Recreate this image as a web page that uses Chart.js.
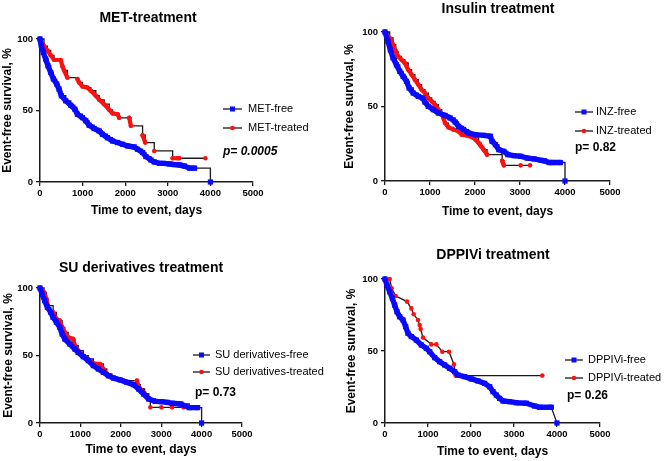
<!DOCTYPE html>
<html>
<head>
<meta charset="utf-8">
<script src="https://cdn.jsdelivr.net/npm/chart.js@4.4.1/dist/chart.umd.min.js"></script>
<style>
  html, body { margin: 0; padding: 0; background: #fff; }
  #wrap { position: relative; width: 669px; height: 461px; }
  .panel { position: absolute; }
</style>
</head>
<body>
<div id="wrap">
  <div class="panel" style="left:0;top:0;width:335px;height:230px"><canvas id="c1"></canvas></div>
  <div class="panel" style="left:335px;top:0;width:334px;height:230px"><canvas id="c2"></canvas></div>
  <div class="panel" style="left:0;top:230px;width:335px;height:231px"><canvas id="c3"></canvas></div>
  <div class="panel" style="left:335px;top:230px;width:334px;height:231px"><canvas id="c4"></canvas></div>
</div>
<script>
// axis ticks and titles
var xTicks = [0, 1000, 2000, 3000, 4000, 5000];
var yTicks = [0, 50, 100];
var xTitle = 'Time to event, days';
var yTitle = 'Event-free survival, %';

// MET-treatment
var metNames = ['MET-free', 'MET-treated'];
var metFreeDays = [0, 31, 78, 133, 188, 251, 314, 392, 447, 502, 604, 722, 816, 878, 996, 1075, 1153, 1271, 1388, 1467, 1584, 1702, 1820, 1937, 2055, 2212, 2290, 2408, 2486, 2604, 2682, 2808, 2900, 3042, 3150, 3276, 3388, 3510, 3627, 4000];
var metFreeSurv = [100, 95.3, 90.7, 86, 81.3, 76.6, 72, 68.5, 65, 60.3, 56.8, 53.7, 51, 47.4, 45, 42.8, 39.7, 37.4, 35.7, 33.4, 31, 28.7, 27.6, 26.4, 25.2, 24.5, 22.9, 20.6, 17.8, 15.4, 14, 13, 13, 12.6, 12.2, 11.9, 11.2, 9.7, 9.7, 0];
var metTreatedDays = [0, 94, 173, 251, 329, 486, 525, 565, 643, 878, 918, 996, 1114, 1192, 1310, 1388, 1506, 1624, 1702, 1820, 1859, 2094, 2133, 2408, 2471, 2682, 3114, 3231, 3271, 3882];
var metTreatedSurv = [100, 95, 92, 88.6, 85.5, 85.3, 81, 78, 73, 72, 69.6, 66.8, 66, 63.8, 60.3, 57.5, 54.4, 50.5, 48, 47.4, 44.9, 44.9, 39.3, 32.7, 27.6, 21.7, 16.6, 16.6, 16.6, 16.6];
var metP = 'p= 0.0005';

// Insulin treatment
var inzNames = ['INZ-free', 'INZ-treated'];
var inzFreeDays = [0, 67, 119, 179, 254, 328, 403, 477, 537, 627, 739, 836, 888, 962, 1074, 1186, 1335, 1447, 1559, 1634, 1745, 1858, 2007, 2193, 2342, 2380, 2454, 2529, 2641, 2730, 2864, 3014, 3163, 3312, 3470, 3545, 3648, 3731, 3896, 4000];
var inzFreeSurv = [100, 93.7, 88, 82.6, 78, 73.6, 70.2, 66.9, 62.4, 59, 56.8, 55.7, 53, 50.1, 47.9, 45.6, 44, 42.3, 39.6, 36.7, 34.5, 32.2, 31.1, 30.6, 30, 26.6, 24.4, 21, 19.9, 17.7, 17, 16.6, 15.4, 14.8, 13.9, 13.5, 12.4, 12.4, 12.4, 0];
var inzTreatedDays = [0, 104, 179, 239, 291, 366, 440, 515, 589, 664, 739, 813, 888, 962, 1037, 1112, 1186, 1261, 1298, 1335, 1410, 1522, 1634, 1708, 1820, 1970, 2081, 2134, 2193, 2268, 2604, 2641, 3014, 3223];
var inzTreatedSurv = [100, 96, 91.5, 87, 83.7, 81.4, 79.2, 74.7, 71.4, 68, 64.7, 61.3, 59, 55.7, 53.5, 51.2, 47.9, 45, 42.3, 38.9, 36, 34.5, 33.3, 31.1, 30.6, 28.9, 25.5, 23.3, 21, 17.7, 13.6, 10.5, 10.5, 10.5];
var inzP = 'p= 0.82';

// SU derivatives treatment
var suNames = ['SU derivatives-free', 'SU derivatives-treated'];
var suFreeDays = [0, 50, 116, 183, 266, 324, 407, 490, 548, 614, 739, 863, 946, 1071, 1195, 1320, 1444, 1569, 1693, 1818, 1984, 2150, 2316, 2440, 2565, 2689, 2855, 3012, 3150, 3270, 3485, 3693, 3900, 4000];
var suFreeSurv = [100, 95.6, 90.6, 85.7, 82, 78.3, 74.6, 70.9, 65.9, 62.2, 58.5, 54.8, 52.3, 49.1, 46.2, 42.5, 40, 37.5, 35, 33.3, 31.9, 30.1, 28.4, 25.2, 21.5, 17.8, 16, 15.8, 15.3, 14.6, 14.1, 11.4, 11.4, 0];
var suTreatedDays = [0, 100, 158, 199, 324, 407, 490, 548, 614, 697, 822, 863, 946, 1071, 1195, 1320, 1486, 1569, 1652, 1776, 1901, 2067, 2399, 2424, 2482, 2590, 2689, 2731, 3004, 3270, 3552];
var suTreatedSurv = [100, 96.8, 91.9, 86.9, 82, 77, 75.8, 70.9, 67.2, 63.5, 62.2, 57.3, 53.6, 49.9, 47.4, 44.2, 43.7, 40, 36.3, 34.3, 32.6, 31.4, 31.4, 28.4, 25.2, 21.5, 18.5, 11.6, 11.6, 11.6, 11.6];
var suP = 'p= 0.73';

// DPPIVi treatment
var dppNames = ['DPPIVi-free', 'DPPIVi-treated'];
var dppFreeDays = [0, 47, 109, 171, 225, 279, 341, 419, 481, 535, 612, 729, 845, 961, 1039, 1155, 1271, 1387, 1504, 1620, 1697, 1852, 2007, 2162, 2317, 2434, 2511, 2589, 2666, 2744, 2899, 3054, 3286, 3480, 3596, 3867, 4000];
var dppFreeSurv = [100, 95.8, 91.2, 86.6, 81.9, 77.3, 73.8, 71.5, 66.9, 62.3, 60, 57.6, 54.2, 51.9, 49.5, 45.4, 42.6, 40.3, 38, 35.6, 33.3, 32.2, 30.6, 29.2, 27.5, 25.2, 21.8, 19.4, 17.1, 15.3, 14.8, 14.1, 13.7, 11.8, 10.9, 10.9, 0];
var dppTreatedDays = [0, 109, 155, 248, 512, 612, 667, 767, 806, 829, 884, 1077, 1194, 1333, 1488, 1604, 1643, 3658];
var dppTreatedSurv = [100, 100, 93.5, 88.2, 84.3, 79.6, 75.5, 71.5, 68, 65.3, 59.3, 54.6, 54.6, 49.5, 49.5, 40.7, 32.9, 32.9];
var dppP = 'p= 0.26';

var BLUE = '#0a0aff';
var RED = '#ff1010';
var INK = '#1a1a1a';
var FONT = '"Liberation Sans", Arial, sans-serif';

function pts(days, surv) {
    return days.map(function (d, i) { return { x: d, y: surv[i] }; });
}

// thick coloured band where the markers sit close together
function band(data, color, width, maxGap) {
    return {
        data: data, borderColor: color, borderWidth: width, pointRadius: 0,
        borderCapStyle: 'round', borderJoinStyle: 'round', clip: false,
        segment: {
            borderColor: function (c) {
                var d = Math.hypot(c.p1.x - c.p0.x, c.p1.y - c.p0.y);
                return d > maxGap ? 'rgba(0,0,0,0)' : color;
            }
        }
    };
}

function decor(p) {
    return {
        id: 'decor',
        afterDraw: function (chart) {
            var ctx = chart.ctx;
            ctx.save();
            ctx.fillStyle = '#000';
            ctx.textBaseline = 'middle';
            ctx.textAlign = 'center';
            ctx.font = 'bold 14px ' + FONT;
            ctx.fillText(p.title, p.titleX, p.titleY);

            ctx.textAlign = 'left';
            p.names.forEach(function (name, i) {
                var y = p.legRows[i];
                ctx.strokeStyle = INK;
                ctx.lineWidth = 1.3;
                ctx.beginPath();
                ctx.moveTo(p.legLine[0], y);
                ctx.lineTo(p.legLine[1], y);
                ctx.stroke();
                var mx = (p.legLine[0] + p.legLine[1]) / 2;
                if (i === 0) {
                    ctx.fillStyle = BLUE;
                    ctx.fillRect(mx - 2.5, y - 2.5, 5, 5);
                } else {
                    ctx.fillStyle = RED;
                    ctx.beginPath();
                    ctx.arc(mx, y, 2.3, 0, Math.PI * 2);
                    ctx.fill();
                }
                ctx.fillStyle = '#000';
                ctx.font = '11px ' + FONT;
                ctx.fillText(name, p.legText, y);
            });

            ctx.font = (p.pItalic ? 'italic ' : '') + 'bold 12px ' + FONT;
            ctx.fillText(p.pText, p.pX, p.pY);
            ctx.restore();
        }
    };
}

function kmChart(id, p) {
    var ctx = document.getElementById(id).getContext('2d');
    var freeData = pts(p.free[0], p.free[1]);
    var trData = pts(p.treated[0], p.treated[1]);
    var datasets = [
        { data: freeData, showLine: false, pointStyle: 'rect', pointRadius: 3.7, pointBorderWidth: 0, pointBackgroundColor: BLUE, clip: false, order: 0 },
        Object.assign(band(freeData, BLUE, 5.4, p.gapBlue), { order: 1 }),
        { data: trData, showLine: false, pointStyle: 'circle', pointRadius: 2.3, pointBorderWidth: 0, pointBackgroundColor: RED, clip: false, order: 2 },
        Object.assign(band(trData, RED, 4.2, p.gapRed), { order: 3 }),
        { data: freeData, borderColor: INK, borderWidth: 1.3, pointRadius: 0, stepped: p.stepped, clip: false, order: 4 },
        { data: trData, borderColor: INK, borderWidth: 1.3, pointRadius: 0, stepped: p.stepped, clip: false, order: 5 }
    ];
    var axisFont = { family: FONT, size: 12, weight: 'bold' };
    var tickFont = { family: FONT, size: 9.5, weight: 'bold' };
    var plain = function (v) { return String(v); };
    new Chart(ctx, {
        type: 'line',
        data: { datasets: datasets },
        plugins: [decor(p)],
        options: {
            responsive: true,
            maintainAspectRatio: false,
            animation: false,
            layout: { padding: { left: 0, top: p.area.top, right: p.W - p.area.right, bottom: 0 } },
            plugins: { legend: { display: false }, tooltip: { enabled: false } },
            scales: {
                x: {
                    type: 'linear', min: 0, max: 5000,
                    afterBuildTicks: function (s) { s.ticks = xTicks.map(function (v) { return { value: v }; }); },
                    afterFit: function (s) { s.height = p.H - p.area.bottom; },
                    ticks: { font: tickFont, color: '#000', padding: 2, maxRotation: 0, callback: plain },
                    grid: { drawOnChartArea: false, tickLength: 4, color: INK, lineWidth: 1.3 },
                    border: { color: INK, width: 1.5 },
                    title: { display: true, text: xTitle, font: axisFont, color: '#000', padding: { top: 0, bottom: p.H - p.xTitleY - 7.2 } }
                },
                y: {
                    min: 0, max: 100,
                    afterBuildTicks: function (s) { s.ticks = yTicks.map(function (v) { return { value: v }; }); },
                    afterFit: function (s) { s.width = p.area.left; },
                    ticks: { font: tickFont, color: '#000', padding: 3, callback: plain },
                    grid: { drawOnChartArea: false, tickLength: 4, color: INK, lineWidth: 1.3 },
                    border: { color: INK, width: 1.5 },
                    title: { display: true, text: yTitle, font: axisFont, color: '#000', padding: { top: p.yTitleX - 7.2, bottom: 0 } }
                }
            }
        }
    });
}

document.addEventListener('DOMContentLoaded', function () {
    kmChart('c1', {
        W: 335, H: 230, area: { left: 40, top: 39, right: 253, bottom: 182 },
        free: [metFreeDays, metFreeSurv], treated: [metTreatedDays, metTreatedSurv],
        names: metNames, stepped: true, gapBlue: 12, gapRed: 10,
        title: 'MET-treatment', titleX: 148, titleY: 18,
        legLine: [223, 242], legText: 248, legRows: [109, 128],
        pText: metP, pX: 223, pY: 152, pItalic: true,
        xTitleY: 211, yTitleX: 8
    });
    kmChart('c2', {
        W: 334, H: 230, area: { left: 50, top: 32, right: 275, bottom: 181 },
        free: [inzFreeDays, inzFreeSurv], treated: [inzTreatedDays, inzTreatedSurv],
        names: inzNames, stepped: true, gapBlue: 12, gapRed: 9,
        title: 'Insulin treatment', titleX: 163, titleY: 9,
        legLine: [240, 258], legText: 261, legRows: [112, 131],
        pText: inzP, pX: 240, pY: 148, pItalic: false,
        xTitleY: 212, yTitleX: 15
    });
    kmChart('c3', {
        W: 335, H: 231, area: { left: 40, top: 58, right: 242, bottom: 193 },
        free: [suFreeDays, suFreeSurv], treated: [suTreatedDays, suTreatedSurv],
        names: suNames, stepped: true, gapBlue: 12, gapRed: 8,
        title: 'SU derivatives treatment', titleX: 141, titleY: 38,
        legLine: [193, 210], legText: 215, legRows: [125, 142],
        pText: suP, pX: 195, pY: 163, pItalic: false,
        xTitleY: 220, yTitleX: 9
    });
    kmChart('c4', {
        W: 334, H: 231, area: { left: 50, top: 49, right: 265, bottom: 193 },
        free: [dppFreeDays, dppFreeSurv], treated: [dppTreatedDays, dppTreatedSurv],
        names: dppNames, stepped: false, gapBlue: 12, gapRed: 0,
        title: 'DPPIVi treatment', titleX: 158, titleY: 25,
        legLine: [230, 248], legText: 253, legRows: [130, 148],
        pText: dppP, pX: 232, pY: 166, pItalic: false,
        xTitleY: 222, yTitleX: 17
    });
});
</script>
</body>
</html>
